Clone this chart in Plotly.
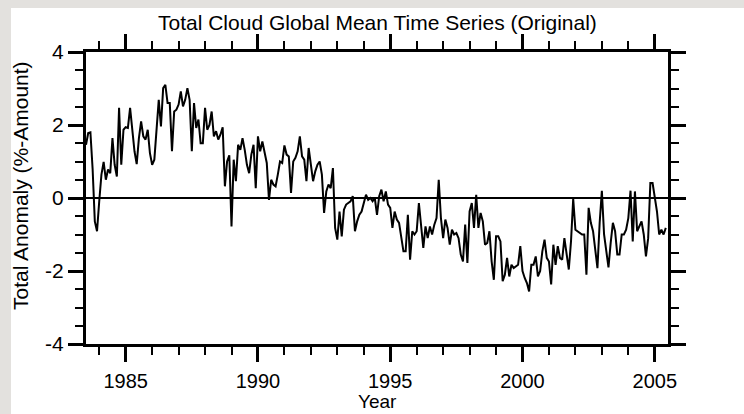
import plotly.graph_objects as go

# Monthly total cloud anomaly, starting July 1983
start_year = 1983.5
anomaly = [
    1.46, 1.78, 1.80, 0.80, -0.64, -0.91, -0.09, 0.64, 0.99, 0.50,
    0.78, 0.68, 1.64, 0.91, 0.59, 2.47, 0.91, 1.87, 1.94, 1.92,
    2.47, 1.83, 1.28, 0.93, 1.64, 2.10, 1.69, 1.60, 1.87, 1.23,
    0.91, 1.05, 1.92, 2.69, 1.96, 3.01, 3.10, 2.60, 2.60, 1.28,
    2.37, 2.42, 2.56, 2.92, 2.51, 2.69, 3.01, 2.69, 1.28, 2.60,
    1.92, 2.15, 1.50, 1.50, 2.47, 1.87, 2.00, 2.37, 1.69, 1.83,
    1.60, 1.74, 1.94, 0.32, 1.00, 1.17, -0.78, 1.05, 0.46, 1.46,
    1.32, 1.64, 1.32, 0.91, 0.68, 1.19, 1.46, 0.27, 1.69, 1.28,
    1.55, 1.28, 0.96, -0.05, 0.50, 0.37, 0.32, 0.64, 1.00, 0.96,
    1.44, 1.19, 1.14, 0.14, 1.00, 1.10, 1.28, 1.69, 1.14, 1.05,
    0.46, 1.37, 0.96, 0.46, 0.73, 0.91, 1.00, 0.64, -0.41, 0.18,
    0.37, 0.27, 0.82, -0.82, -1.14, -0.37, -1.05, -0.32, -0.18, -0.14,
    -0.09, 0.05, -0.91, -0.64, -0.46, -0.37, -0.14, 0.09, -0.05, 0.00,
    -0.09, 0.00, -0.46, 0.05, 0.23, -0.09, 0.18, -0.18, -0.27, -0.82,
    -0.37, -0.59, -0.68, -1.10, -1.46, -1.46, -0.46, -1.69, -0.91, -1.00,
    -0.91, -0.14, -0.73, -1.37, -0.78, -1.10, -0.78, -1.00, -0.73, -0.55,
    0.50, -0.55, -1.10, -0.59, -0.82, -1.28, -0.87, -1.00, -0.96, -1.10,
    -1.55, -1.74, -0.73, -1.78, -0.37, -0.14, -0.82, 0.09, -0.82, -0.41,
    -0.64, -1.28, -1.23, -0.91, -1.74, -2.24, -1.05, -1.05, -1.19, -2.28,
    -2.10, -1.64, -2.15, -1.83, -1.92, -1.87, -1.83, -1.32, -2.00, -2.19,
    -2.33, -2.56, -1.83, -1.83, -1.60, -2.15, -2.00, -1.46, -1.14, -1.64,
    -1.74, -2.37, -1.28, -1.83, -1.32, -1.64, -1.69, -1.10, -1.60, -1.96,
    -1.19, -0.02, -0.87, -0.91, -0.96, -1.00, -1.00, -2.10, -0.27, -0.68,
    -0.91, -1.37, -1.92, -0.68, 0.20, -1.00, -1.46, -1.90, -1.23, -0.68,
    -0.91, -1.55, -1.55, -1.00, -1.00, -0.87, -0.55, 0.20, -1.19, 0.18,
    -0.91, -0.78, -0.64, -1.00, -1.60, -1.10, 0.41, 0.41, 0.00, -0.37,
    -1.00, -0.87, -1.00, -0.82,
]
years = [start_year + i / 12 for i in range(len(anomaly))]

x_tickvals = [1985, 1990, 1995, 2000, 2005]
x_ticktext = ["1985", "1990", "1995", "2000", "2005"]
y_tickvals = [-4, -2, 0, 2, 4]
y_ticktext = ["-4", "-2", "0", "2", "4"]

title_text = "Total Cloud Global Mean Time Series (Original)"
x_title = "Year"
y_title = "Total Anomaly (%-Amount)"

FONT = "Liberation Sans, Arial, Helvetica, sans-serif"
W, H = 744, 414
L, R, T, B = 86, 76, 52, 70
PW, PH = W - L - R, H - T - B


def px(x):
    return (x - L) / PW


def py(y):
    return (H - B - y) / PH


fig = go.Figure()
fig.add_trace(go.Scatter(
    x=years, y=anomaly, mode="lines",
    line=dict(color="black", width=2),
    hoverinfo="skip", showlegend=False,
))

axis_common = dict(
    showline=True, linecolor="black", linewidth=3, mirror="ticks",
    ticks="outside", ticklen=15, tickwidth=2.8, tickcolor="black",
    showgrid=False,
)

fig.update_xaxes(
    range=[1983.5, 2005.5],
    tickmode="array", tickvals=x_tickvals, ticktext=x_ticktext,
    minor=dict(dtick=1, tick0=1985, ticks="outside", ticklen=8,
               tickwidth=1.8, tickcolor="black", showgrid=False),
    zeroline=False,
    ticklabelstandoff=2,
    tickfont=dict(family=FONT, size=20, color="black"),
    **axis_common,
)
fig.update_yaxes(
    range=[-4, 4],
    tickmode="array", tickvals=y_tickvals, ticktext=y_ticktext,
    minor=dict(dtick=0.5, tick0=0, ticks="outside", ticklen=8,
               tickwidth=1.8, tickcolor="black", showgrid=False),
    zeroline=True, zerolinecolor="black", zerolinewidth=1.5,
    ticklabelstandoff=0,
    tickfont=dict(family=FONT, size=21, color="black"),
    **axis_common,
)

fig.update_layout(
    width=W, height=H,
    margin=dict(l=L, r=R, t=T, b=B, pad=0),
    paper_bgcolor="white", plot_bgcolor="white",
    font=dict(family=FONT, color="black"),
    shapes=[
        dict(type="rect", xref="paper", yref="paper",
             x0=px(0), x1=px(11), y0=py(H), y1=py(0),
             fillcolor="#e3e1de", line=dict(width=0), layer="below"),
        dict(type="rect", xref="paper", yref="paper",
             x0=px(0), x1=px(W), y0=py(8), y1=py(0),
             fillcolor="#e3e1de", line=dict(width=0), layer="below"),
    ],
    annotations=[
        dict(text=title_text, xref="paper", yref="paper",
             x=px(377), y=py(22), xanchor="center", yanchor="middle",
             showarrow=False, font=dict(family=FONT, size=21, color="black")),
        dict(text=x_title, xref="paper", yref="paper",
             x=px(377), y=py(414), xanchor="center", yanchor="bottom",
             showarrow=False, font=dict(family=FONT, size=19, color="black")),
        dict(text=y_title, xref="paper", yref="paper",
             x=px(21), y=py(186), xanchor="center", yanchor="middle",
             textangle=-90,
             showarrow=False, font=dict(family=FONT, size=21, color="black")),
    ],
)

fig.write_html("out.html")
